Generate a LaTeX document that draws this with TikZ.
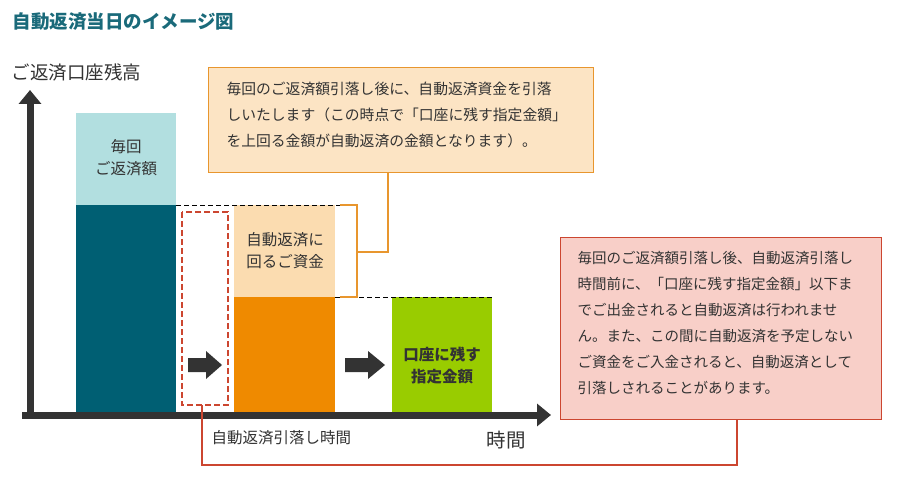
\documentclass[tikz,border=0pt]{standalone}
\usepackage{fontspec}
\setmainfont{Noto Sans CJK JP}
\usetikzlibrary{arrows.meta}
\definecolor{teal1}{HTML}{005F73}
\definecolor{teal2}{HTML}{B2DFE0}
\definecolor{title}{HTML}{1A6A7A}
\definecolor{peach}{HTML}{FBDCB0}
\definecolor{orng}{HTML}{EF8A00}
\definecolor{grn}{HTML}{99CC00}
\definecolor{box1}{HTML}{FCE4C4}
\definecolor{box1b}{HTML}{E8962E}
\definecolor{box2}{HTML}{F8CFC8}
\definecolor{box2b}{HTML}{CC4630}
\definecolor{ax}{HTML}{333333}
\begin{document}
\begin{tikzpicture}[x=1pt,y=-1pt,
  lbl/.style={font=\fontsize{15.5}{22}\selectfont,text=ax,align=center},
  note/.style={font=\fontsize{14.8}{26}\selectfont,text=ax,align=left,anchor=north west}]
\useasboundingbox (0,0) rectangle (900,481);
\node[anchor=west,font=\bfseries\fontsize{18.5}{20}\selectfont,text=title] (title) at (9,22) {自動返済当日のイメージ図};
\node[anchor=west,font=\fontsize{18.5}{20}\selectfont,text=ax] (ylab) at (8,72) {ご返済口座残高};
\node[anchor=west,font=\fontsize{19.5}{21}\selectfont,text=ax] (xlab) at (483,440) {時間};
\coordinate (ytop) at (30,90);
\coordinate (xend) at (551,415);
\coordinate (xstart) at (22,415);
% bars
\fill[teal2] (76,113) rectangle (176,205);
\fill[teal1] (76,205) rectangle (176,415);
\node[lbl] (b1) at (126,158) {毎回\\ご返済額};
\fill[peach] (234,205) rectangle (335,297);
\fill[orng] (234,297) rectangle (335,415);
\node[lbl] (b2) at (285,251) {自動返済に\\回るご資金};
\fill[grn] (392,297) rectangle (492,415);
\node[lbl,font=\bfseries\fontsize{15.5}{22}\selectfont] (b3) at (442,366) {口座に残す\\指定金額};
% axes
\draw[ax,line width=7pt,-{Triangle[length=14pt,width=22pt]}] (30,418.5) -- (ytop);
\draw[ax,line width=7pt,-{Triangle[length=14pt,width=22pt]}] (xstart) -- (xend);
% dashed
\draw[black,dash pattern=on 5pt off 3pt,thick] (176,205) -- (355,205);
\draw[black,dash pattern=on 5pt off 3pt,thick] (335,297) -- (492,297);
\draw[box2b,dash pattern=on 6pt off 3pt,line width=1.3pt] (182,212) rectangle (228,405);
\coordinate (rb) at (202,405);
% fat arrows
\fill[ax] (188,358) -- (206,358) -- (206,351) -- (222,365) -- (206,379) -- (206,372) -- (188,372) -- cycle;
\fill[ax] (345,358) -- (368,358) -- (368,351) -- (385,365) -- (368,379) -- (368,372) -- (345,372) -- cycle;
% callout 1
\node[draw=box1b,fill=box1,line width=1.3pt,minimum width=385pt,minimum height=105pt,anchor=north west] (c1) at (208,67) {};
\node[note] (t1) at (223,78) {毎回のご返済額引落し後に、自動返済資金を引落\\しいたします（この時点で「口座に残す指定金額」\\を上回る金額が自動返済の金額となります）。};
\draw[box1b,line width=1.3pt] (340,205) -- (357,205) -- (357,297) -- (340,297);
\draw[box1b,line width=1.3pt] (357,252) -- (388,252) -- (c1.south -| 388,0);
% callout 2
\node[draw=box2b,fill=box2,line width=1.3pt,minimum width=321pt,minimum height=182pt,anchor=north west] (c2) at (560,237) {};
\node[note,font=\fontsize{14.5}{26}\selectfont] (t2) at (574,248) {毎回のご返済額引落し後、自動返済引落し\\時間前に、「口座に残す指定金額」以下ま\\でご出金されると自動返済は行われませ\\ん。また、この間に自動返済を予定しない\\ご資金をご入金されると、自動返済として\\引落しされることがあります。};
\draw[box2b,line width=1.3pt] (rb) -- (202,465) -- (737,465) -- (c2.south -| 737,0);
\node[anchor=west,font=\fontsize{15.5}{17}\selectfont,text=ax] (tl) at (208,438) {自動返済引落し時間};
\end{tikzpicture}
\end{document}
